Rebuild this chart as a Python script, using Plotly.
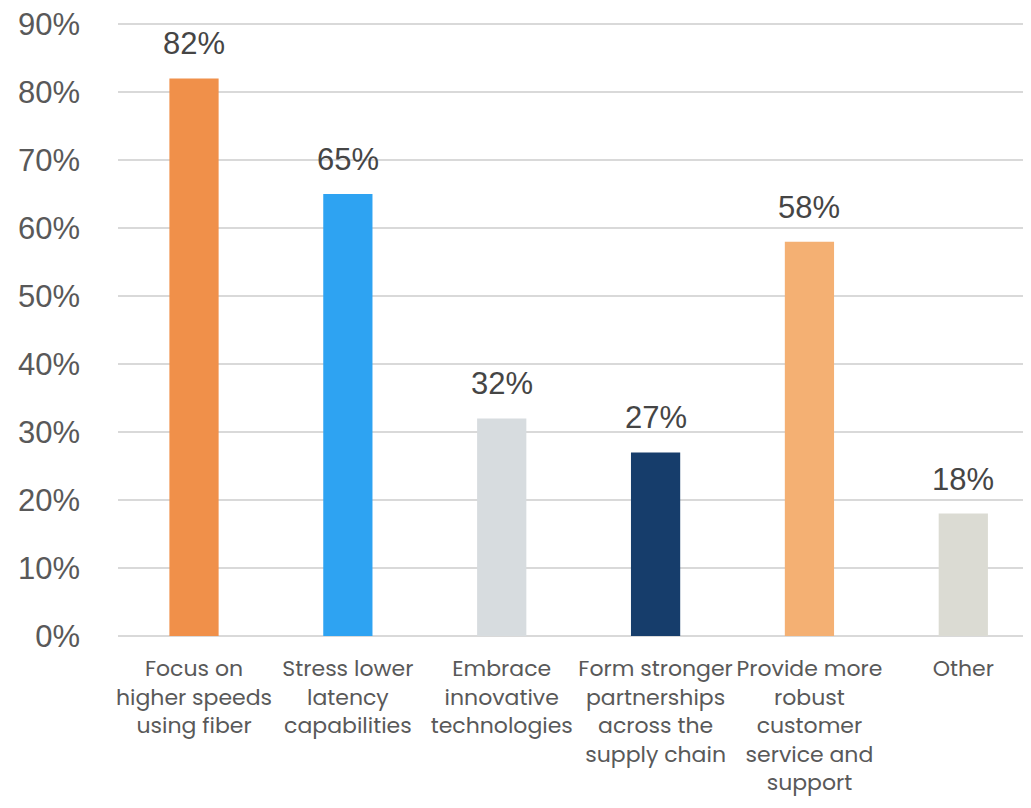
import plotly.graph_objects as go

categories = ["Focus on<br>higher speeds<br>using fiber",
              "Stress lower<br>latency<br>capabilities",
              "Embrace<br>innovative<br>technologies",
              "Form stronger<br>partnerships<br>across the<br>supply chain",
              "Provide more<br>robust<br>customer<br>service and<br>support",
              "Other"]
values = [82, 65, 32, 27, 58, 18]
colors = ["#F0904A", "#2EA3F2", "#D7DCDF", "#163D6B", "#F4B073", "#DBDBD3"]
yticks = [0, 10, 20, 30, 40, 50, 60, 70, 80, 90]

xs = list(range(len(values)))
fig = go.Figure(go.Bar(x=xs, y=values, marker=dict(color=colors, line=dict(width=0)),
                       width=0.32, hoverinfo="skip"))

for x, v in zip(xs, values):
    fig.add_annotation(x=x, y=v, text=f"{v}%", showarrow=False, yanchor="bottom",
                       yshift=15, font=dict(family="Liberation Sans, Arial", size=31, color="#454545"))

fig.update_layout(
    width=1023, height=800,
    margin=dict(l=110, r=0, t=14, b=172),
    paper_bgcolor="white", plot_bgcolor="white",
    showlegend=False,
    xaxis=dict(range=[-0.494, 5.44], tickmode="array", tickvals=xs, ticktext=categories,
               tickfont=dict(family="Poppins, Lato, Open Sans", size=22, color="#595959"),
               showgrid=False, zeroline=False, showline=False, ticks="", ticklabelstandoff=17,
               tickangle=0, ticklabeloverflow="allow"),
    yaxis=dict(range=[0, 90.3], tickmode="array", tickvals=yticks,
               ticktext=[f"{t}%" for t in yticks],
               tickfont=dict(family="Liberation Sans, Arial", size=31, color="#595959"),
               showgrid=True, gridcolor="#D9D9D9", gridwidth=2, zeroline=True,
               zerolinecolor="#D9D9D9", zerolinewidth=2, ticks="", ticklabelstandoff=37,
               ticklabeloverflow="allow"),
)

fig.write_html("out.html")
